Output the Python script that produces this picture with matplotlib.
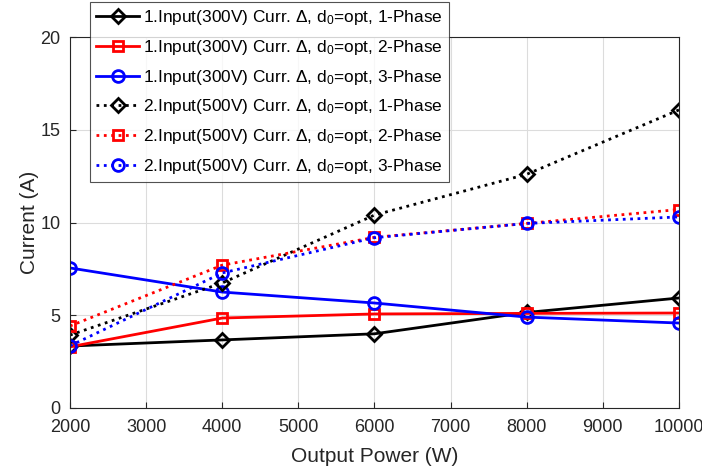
import numpy as np
import matplotlib.pyplot as plt

plt.rcParams['font.family'] = ['Liberation Sans', 'DejaVu Sans']
plt.rcParams['mathtext.fontset'] = 'custom'
plt.rcParams['mathtext.rm'] = 'Liberation Sans'
plt.rcParams['mathtext.it'] = 'Liberation Sans'

## Data
power = [2000, 4000, 6000, 8000, 10000]
i300_1ph = [3.34, 3.67, 4.0, 5.15, 5.93]
i300_2ph = [3.3, 4.85, 5.07, 5.1, 5.12]
i300_3ph = [7.55, 6.25, 5.66, 4.9, 4.58]
i500_1ph = [3.93, 6.74, 10.4, 12.6, 16.07]
i500_2ph = [4.42, 7.7, 9.2, 9.95, 10.7]
i500_3ph = [3.35, 7.28, 9.18, 9.95, 10.3]

labels = [
    "1.Input(300V) Curr. \u0394, d$_0$=opt, 1-Phase",
    "1.Input(300V) Curr. \u0394, d$_0$=opt, 2-Phase",
    "1.Input(300V) Curr. \u0394, d$_0$=opt, 3-Phase",
    "2.Input(500V) Curr. \u0394, d$_0$=opt, 1-Phase",
    "2.Input(500V) Curr. \u0394, d$_0$=opt, 2-Phase",
    "2.Input(500V) Curr. \u0394, d$_0$=opt, 3-Phase",
]

series = [i300_1ph, i300_2ph, i300_3ph, i500_1ph, i500_2ph, i500_3ph]
colors = ['k', 'r', 'b', 'k', 'r', 'b']
markers = ['D', 's', 'o', 'D', 's', 'o']
msizes = [7, 6.5, 8.5, 7, 6.5, 8.5]
styles = ['-', '-', '-', ':', ':', ':']

## Figure
fig = plt.figure(figsize=(7.02, 4.72), dpi=100)
ax = fig.add_axes([0.0997, 0.1356, 0.8675, 0.786])

for y, c, m, ms, ls, lab in zip(series, colors, markers, msizes, styles, labels):
    ax.plot(power, y, color=c, linestyle=ls, linewidth=2, marker=m, markersize=ms,
            markerfacecolor='none', markeredgewidth=2, label=lab)

ax.set_xlim(2000, 10000)
ax.set_ylim(0, 20)
ax.set_xticks(np.arange(2000, 10001, 1000))
ax.set_yticks([0, 5, 10, 15, 20])
ax.grid(True, color='#dcdcdc', linewidth=0.8)
ax.set_axisbelow(True)
ax.tick_params(direction='in', labelsize=13, colors='#262626', length=4)
ax.tick_params(axis='x', pad=8)
ax.tick_params(axis='y', pad=7)
for s in ax.spines.values():
    s.set_color('#262626')
    s.set_linewidth(0.8)

ax.set_xlabel("Output Power (W)", fontsize=15, color='#262626', labelpad=8)
ax.set_ylabel("Current (A)", fontsize=15, color='#262626', labelpad=1)

leg = ax.legend(loc='upper left', bbox_to_anchor=(0.128, 0.996), bbox_transform=fig.transFigure,
                fontsize=12.4, frameon=True, fancybox=False, edgecolor='#262626',
                handlelength=2.5, borderpad=0.38, labelspacing=0.62, handletextpad=0.2,
                borderaxespad=0)
leg.get_frame().set_linewidth(0.8)

plt.savefig("out.png", dpi=100)
